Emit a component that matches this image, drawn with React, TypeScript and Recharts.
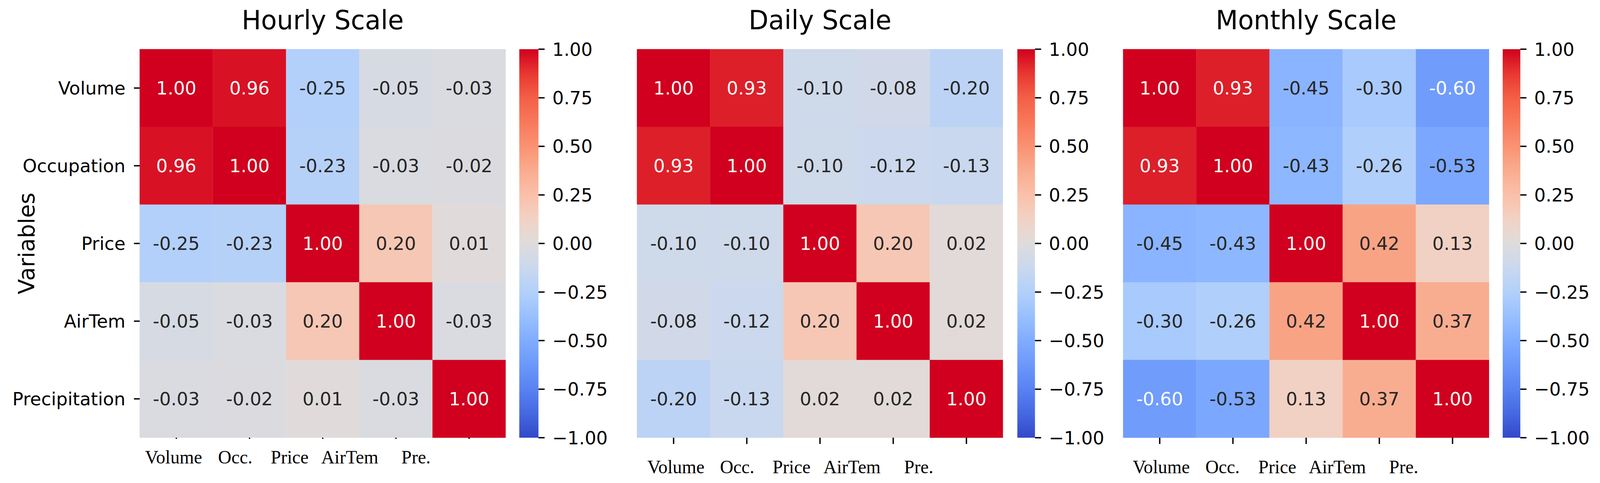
import { BarChart, Bar, XAxis, YAxis, Cell, LabelList, Label } from 'recharts';

// ---- data ----
const rowLabels = ['Volume', 'Occupation', 'Price', 'AirTem', 'Precipitation'];
const colLabels = ['Volume', 'Occ.', 'Price', 'AirTem', 'Pre.'];
const titles = ['Hourly Scale', 'Daily Scale', 'Monthly Scale'];
const colorbarTicks = [-1, -0.75, -0.5, -0.25, 0, 0.25, 0.5, 0.75, 1];

const hourly = [
  [1.0, 0.96, -0.25, -0.05, -0.03],
  [0.96, 1.0, -0.23, -0.03, -0.02],
  [-0.25, -0.23, 1.0, 0.2, 0.01],
  [-0.05, -0.03, 0.2, 1.0, -0.03],
  [-0.03, -0.02, 0.01, -0.03, 1.0],
];
const daily = [
  [1.0, 0.93, -0.1, -0.08, -0.2],
  [0.93, 1.0, -0.1, -0.12, -0.13],
  [-0.1, -0.1, 1.0, 0.2, 0.02],
  [-0.08, -0.12, 0.2, 1.0, 0.02],
  [-0.2, -0.13, 0.02, 0.02, 1.0],
];
const monthly = [
  [1.0, 0.93, -0.45, -0.3, -0.6],
  [0.93, 1.0, -0.43, -0.26, -0.53],
  [-0.45, -0.43, 1.0, 0.42, 0.13],
  [-0.3, -0.26, 0.42, 1.0, 0.37],
  [-0.6, -0.53, 0.13, 0.37, 1.0],
];

// ---- layout / style ----
const W = 4157;
const H = 1237;
const HM_TOP = 126;
const HM_BOTTOM = 1121;
const HM_W = 951;
const SANS = 'DejaVu Sans';
const SERIF = 'Liberation Serif';

const panels = [
  { title: titles[0], data: hourly, hmLeft: 363, cbLeft: 1349, cbW: 50, rowText: true, xTick: 3, xDy: 66, xShift: [-7, -37, -86, -120, -138] },
  { title: titles[1], data: daily, hmLeft: 1655, cbLeft: 2643, cbW: 46, rowText: false, xTick: 16, xDy: 91, xShift: [6, -25, -74, -107, -124] },
  { title: titles[2], data: monthly, hmLeft: 2918, cbLeft: 3904, cbW: 46, rowText: false, xTick: 16, xDy: 91, xShift: [4, -27, -75, -109, -127] },
];

// coolwarm-like ramp (value, r, g, b)
const RAMP: number[][] = [
  [-1.0, 50, 72, 200],
  [-0.875, 70, 104, 226],
  [-0.75, 88, 130, 241],
  [-0.625, 108, 152, 250],
  [-0.5, 128, 172, 255],
  [-0.375, 152, 192, 255],
  [-0.25, 178, 208, 250],
  [-0.125, 202, 216, 238],
  [0, 222, 220, 220],
  [0.125, 241, 210, 196],
  [0.25, 250, 192, 170],
  [0.375, 249, 172, 143],
  [0.5, 250, 146, 115],
  [0.625, 248, 120, 90],
  [0.75, 244, 95, 70],
  [0.875, 232, 55, 50],
  [1.0, 208, 0, 30],
];

function colorFor(v: number) {
  const x = Math.max(-1, Math.min(1, v));
  for (let i = 0; i < RAMP.length - 1; i++) {
    const a = RAMP[i];
    const b = RAMP[i + 1];
    if (x >= a[0] && x <= b[0]) {
      const t = (x - a[0]) / (b[0] - a[0]);
      const c = [1, 2, 3].map((k) => Math.round(a[k] + (b[k] - a[k]) * t));
      return `rgb(${c[0]},${c[1]},${c[2]})`;
    }
  }
  return 'rgb(208,0,30)';
}

const textColor = (v: number) => (Math.abs(v) >= 0.58 ? '#ffffff' : '#262626');
const fmtCb = (v: number) => (v < 0 ? '\u2212' : '') + Math.abs(v).toFixed(2);

function CellLabel(props: any) {
  const vb = props.viewBox || props;
  const x = vb.x ?? props.x;
  const y = vb.y ?? props.y;
  const w = vb.width ?? props.width;
  const h = vb.height ?? props.height;
  const v = Number(props.value);
  return (
    <text
      x={x + w / 2}
      y={y + h / 2 + 17}
      textAnchor="middle"
      fontFamily={SANS}
      fontSize={47}
      fill={textColor(v)}
    >
      {v.toFixed(2)}
    </text>
  );
}

function VarLabel(props: any) {
  const vb = props.viewBox || {};
  const cx = (vb.x ?? 0) + 89;
  const cy = (vb.y ?? HM_TOP) + (vb.height ?? HM_BOTTOM - HM_TOP) / 2;
  return (
    <text
      x={cx}
      y={cy}
      transform={`rotate(-90, ${cx}, ${cy})`}
      textAnchor="middle"
      fontFamily={SANS}
      fontSize={57}
      fill="#000"
    >
      Variables
    </text>
  );
}

function Heatmap({ panel }: { panel: (typeof panels)[number] }) {
  const yW = panel.rowText ? panel.hmLeft : 30;
  const rows = panel.data;
  const chartData = colLabels.map((c, ci) => {
    const d: Record<string, any> = { col: c };
    rows.forEach((r, ri) => {
      d[`r${ri}`] = 1;
      d[`v${ri}`] = r[ci];
    });
    return d;
  });

  const xTick = (p: any) => {
    const { x, y, payload, index } = p;
    return (
      <g>
        <line x1={x} x2={x} y1={y} y2={y + panel.xTick} stroke="#000" strokeWidth={3.5} />
        <text
          x={x + panel.xShift[index]}
          y={y + panel.xDy}
          textAnchor="middle"
          fontFamily={SERIF}
          fontSize={48}
          fill="#000"
        >
          {payload.value}
        </text>
      </g>
    );
  };

  return (
    <div style={{ position: 'absolute', left: panel.hmLeft - yW, top: 0 }}>
      <BarChart
        width={yW + HM_W}
        height={H}
        data={chartData}
        margin={{ top: HM_TOP, right: 0, bottom: 0, left: 0 }}
        barCategoryGap={0}
        barGap={0}
      >
        <XAxis
          dataKey="col"
          height={H - HM_BOTTOM}
          axisLine={false}
          tickLine={false}
          tickSize={0}
          tickMargin={0}
          interval={0}
          tick={xTick}
        />
        <YAxis
          type="number"
          domain={[0, 5]}
          reversed
          width={yW}
          ticks={rowLabels.map((_, i) => i + 0.5)}
          interval={0}
          tickFormatter={(v: number) => rowLabels[Math.floor(v)]}
          axisLine={false}
          tickSize={15}
          tickMargin={22}
          tickLine={{ stroke: '#000', strokeWidth: 3.5 }}
          tick={panel.rowText ? { fontSize: 47, fill: '#000', fontFamily: SANS } : false}
        >
          {panel.rowText && <Label content={VarLabel} />}
        </YAxis>
        {rows.map((row, ri) => (
          <Bar key={ri} dataKey={`r${ri}`} stackId="s" isAnimationActive={false}>
            {chartData.map((_, ci) => (
              <Cell key={ci} fill={colorFor(rows[ri][ci])} stroke={colorFor(rows[ri][ci])} strokeWidth={0.5} />
            ))}
            <LabelList dataKey={`v${ri}`} content={CellLabel} />
          </Bar>
        ))}
      </BarChart>
    </div>
  );
}

function Colorbar({ id, left, width }: { id: string; left: number; width: number }) {
  const axisW = Math.min(230, W - left - width);
  const stops = Array.from({ length: 33 }, (_, i) => {
    const v = 1 - i / 16;
    return <stop key={i} offset={`${(i / 32) * 100}%`} stopColor={colorFor(v)} />;
  });
  return (
    <div style={{ position: 'absolute', left, top: 0 }}>
      <BarChart
        width={width + axisW}
        height={H}
        data={[{ k: 'cb', range: [-1, 1] }]}
        margin={{ top: HM_TOP, right: 0, bottom: H - HM_BOTTOM, left: 0 }}
        barCategoryGap={0}
      >
        <defs>
          <linearGradient id={id} x1="0" y1="0" x2="0" y2="1">
            {stops}
          </linearGradient>
        </defs>
        <XAxis dataKey="k" hide />
        <YAxis
          orientation="right"
          type="number"
          domain={[-1, 1]}
          ticks={colorbarTicks}
          interval={0}
          width={axisW}
          axisLine={false}
          tickSize={16}
          tickMargin={20}
          tickLine={{ stroke: '#000', strokeWidth: 3.5 }}
          tick={{ fontSize: 47, fill: '#000', fontFamily: SANS }}
          tickFormatter={fmtCb}
        />
        <Bar dataKey="range" fill={`url(#${id})`} isAnimationActive={false} />
      </BarChart>
    </div>
  );
}

export default function App() {
  // the browser window is capped narrower than the figure; squeeze horizontally to fit
  const vw = typeof window !== 'undefined' ? window.innerWidth : W;
  const sx = Math.min(1, vw / W);
  return (
    <div
      style={{
        position: 'absolute',
        left: 0,
        top: 0,
        width: W,
        height: H,
        background: '#fff',
        overflow: 'hidden',
        transform: `scaleX(${sx})`,
        transformOrigin: '0 0',
      }}
    >
      {panels.map((p, i) => (
        <Heatmap key={`h${i}`} panel={p} />
      ))}
      {panels.map((p, i) => (
        <Colorbar key={`c${i}`} id={`cbgrad${i}`} left={p.cbLeft} width={p.cbW} />
      ))}
      <svg width={W} height={H} style={{ position: 'absolute', left: 0, top: 0, pointerEvents: 'none' }}>
        {panels.map((p, i) => (
          <text
            key={i}
            x={p.hmLeft + HM_W / 2}
            y={75}
            textAnchor="middle"
            fontFamily={SANS}
            fontSize={67}
            fill="#000"
          >
            {p.title}
          </text>
        ))}
      </svg>
    </div>
  );
}
